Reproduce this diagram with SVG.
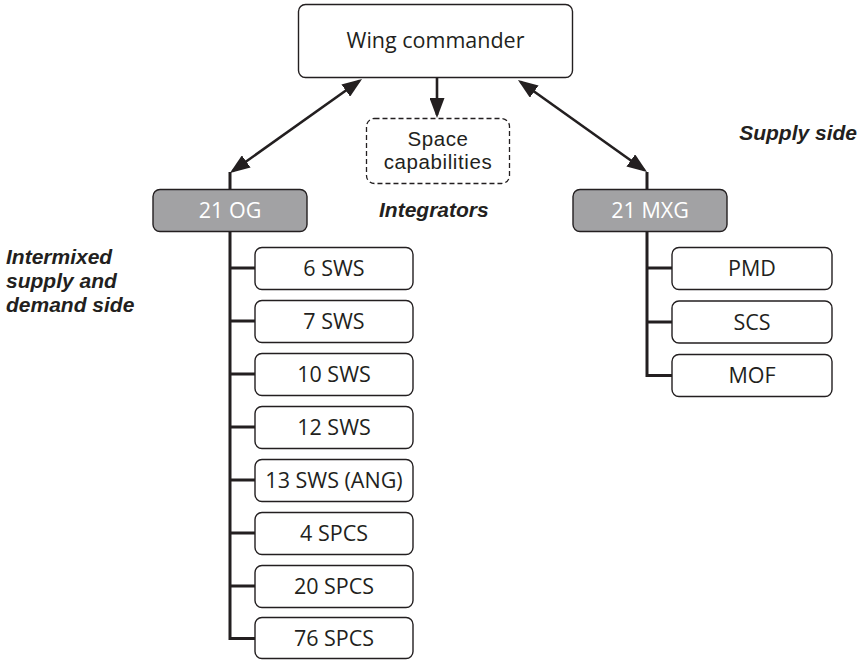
<svg xmlns="http://www.w3.org/2000/svg" width="860" height="660" viewBox="0 0 860 660">
<defs>
<style>
.box{fill:#fff;stroke:#231f20;stroke-width:1.4}
.grp{fill:#a2a2a4;stroke:#231f20;stroke-width:1.4}
.dash{fill:#fff;stroke:#231f20;stroke-width:1.3;stroke-dasharray:5 3}
.t{font-family:"Open Sans","Liberation Sans",sans-serif;font-size:21.5px;fill:#231f20;text-anchor:middle}
.tw{font-family:"Open Sans","Liberation Sans",sans-serif;font-size:21.5px;fill:#fff;text-anchor:middle}
.t2{font-family:"Liberation Sans",Arial,sans-serif;font-size:20.5px;letter-spacing:0.6px;fill:#231f20;text-anchor:middle}
.lab{font-family:"Liberation Sans",Arial,sans-serif;font-size:21px;font-weight:bold;font-style:italic;fill:#231f20}
.ln{fill:none;stroke:#231f20;stroke-width:3}
.ar{fill:none;stroke:#231f20;stroke-width:2.6}
</style>
<marker id="ah" markerUnits="userSpaceOnUse" markerWidth="21" markerHeight="15" refX="17" refY="7.5" orient="auto-start-reverse">
<path d="M0,0 L20,7.5 L0,15 z" fill="#231f20"/>
</marker>
</defs>
<g id="connectors">
<line class="ar" x1="359.6" y1="80.7" x2="232.4" y2="171.3" marker-start="url(#ah)" marker-end="url(#ah)"/>
<line class="ar" x1="520.4" y1="81.7" x2="644.6" y2="170.3" marker-start="url(#ah)" marker-end="url(#ah)"/>
<line class="ar" x1="437" y1="77" x2="437" y2="115" marker-end="url(#ah)"/>
<path class="ln" d="M230,172 V190 M230,231 V638.5 H255 M230,268 H255 M230,321 H255 M230,374 H255 M230,427 H255 M230,480 H255 M230,533 H255 M230,586 H255"/>
<path class="ln" d="M647,172 V190 M647,231 V375.5 H672 M647,268 H672 M647,322 H672"/>
</g>
<g id="wing-commander"><rect class="box" x="298.5" y="4.5" width="274" height="73" rx="7"/><text class="t" x="435.5" y="48">Wing commander</text></g>
<g id="space-capabilities"><rect class="dash" x="366.5" y="118.5" width="143" height="65" rx="8"/><text class="t2" x="438" y="146">Space</text><text class="t2" x="438" y="169">capabilities</text></g>
<g id="og"><rect class="grp" x="153" y="189.5" width="154" height="42" rx="7"/><text class="tw" x="230" y="217.5">21 OG</text></g>
<g id="mxg"><rect class="grp" x="573" y="189.5" width="154" height="42" rx="7"/><text class="tw" x="650" y="217.5">21 MXG</text></g>
<g id="sws6"><rect class="box" x="255" y="247.5" width="158" height="42" rx="7"/><text class="t" x="334" y="276">6 SWS</text></g>
<g id="sws7"><rect class="box" x="255" y="300.5" width="158" height="42" rx="7"/><text class="t" x="334" y="329">7 SWS</text></g>
<g id="sws10"><rect class="box" x="255" y="353.5" width="158" height="42" rx="7"/><text class="t" x="334" y="382">10 SWS</text></g>
<g id="sws12"><rect class="box" x="255" y="406.5" width="158" height="42" rx="7"/><text class="t" x="334" y="435">12 SWS</text></g>
<g id="sws13"><rect class="box" x="255" y="459.5" width="158" height="42" rx="7"/><text class="t" x="334" y="488">13 SWS (ANG)</text></g>
<g id="spcs4"><rect class="box" x="255" y="512.5" width="158" height="42" rx="7"/><text class="t" x="334" y="541">4 SPCS</text></g>
<g id="spcs20"><rect class="box" x="255" y="565.5" width="158" height="42" rx="7"/><text class="t" x="334" y="594">20 SPCS</text></g>
<g id="spcs76"><rect class="box" x="255" y="617.5" width="158" height="41" rx="7"/><text class="t" x="334" y="646">76 SPCS</text></g>
<g id="pmd"><rect class="box" x="672" y="247.5" width="160" height="42" rx="7"/><text class="t" x="752" y="276">PMD</text></g>
<g id="scs"><rect class="box" x="672" y="301" width="160" height="42" rx="7"/><text class="t" x="752" y="329.5">SCS</text></g>
<g id="mof"><rect class="box" x="672" y="354.5" width="160" height="42" rx="7"/><text class="t" x="752" y="383">MOF</text></g>
<g id="labels">
<text class="lab" x="857" y="140" text-anchor="end">Supply side</text>
<text class="lab" x="379" y="217">Integrators</text>
<text class="lab" x="6" y="264">Intermixed</text>
<text class="lab" x="6" y="288">supply and</text>
<text class="lab" x="6" y="312">demand side</text>
</g>
</svg>
